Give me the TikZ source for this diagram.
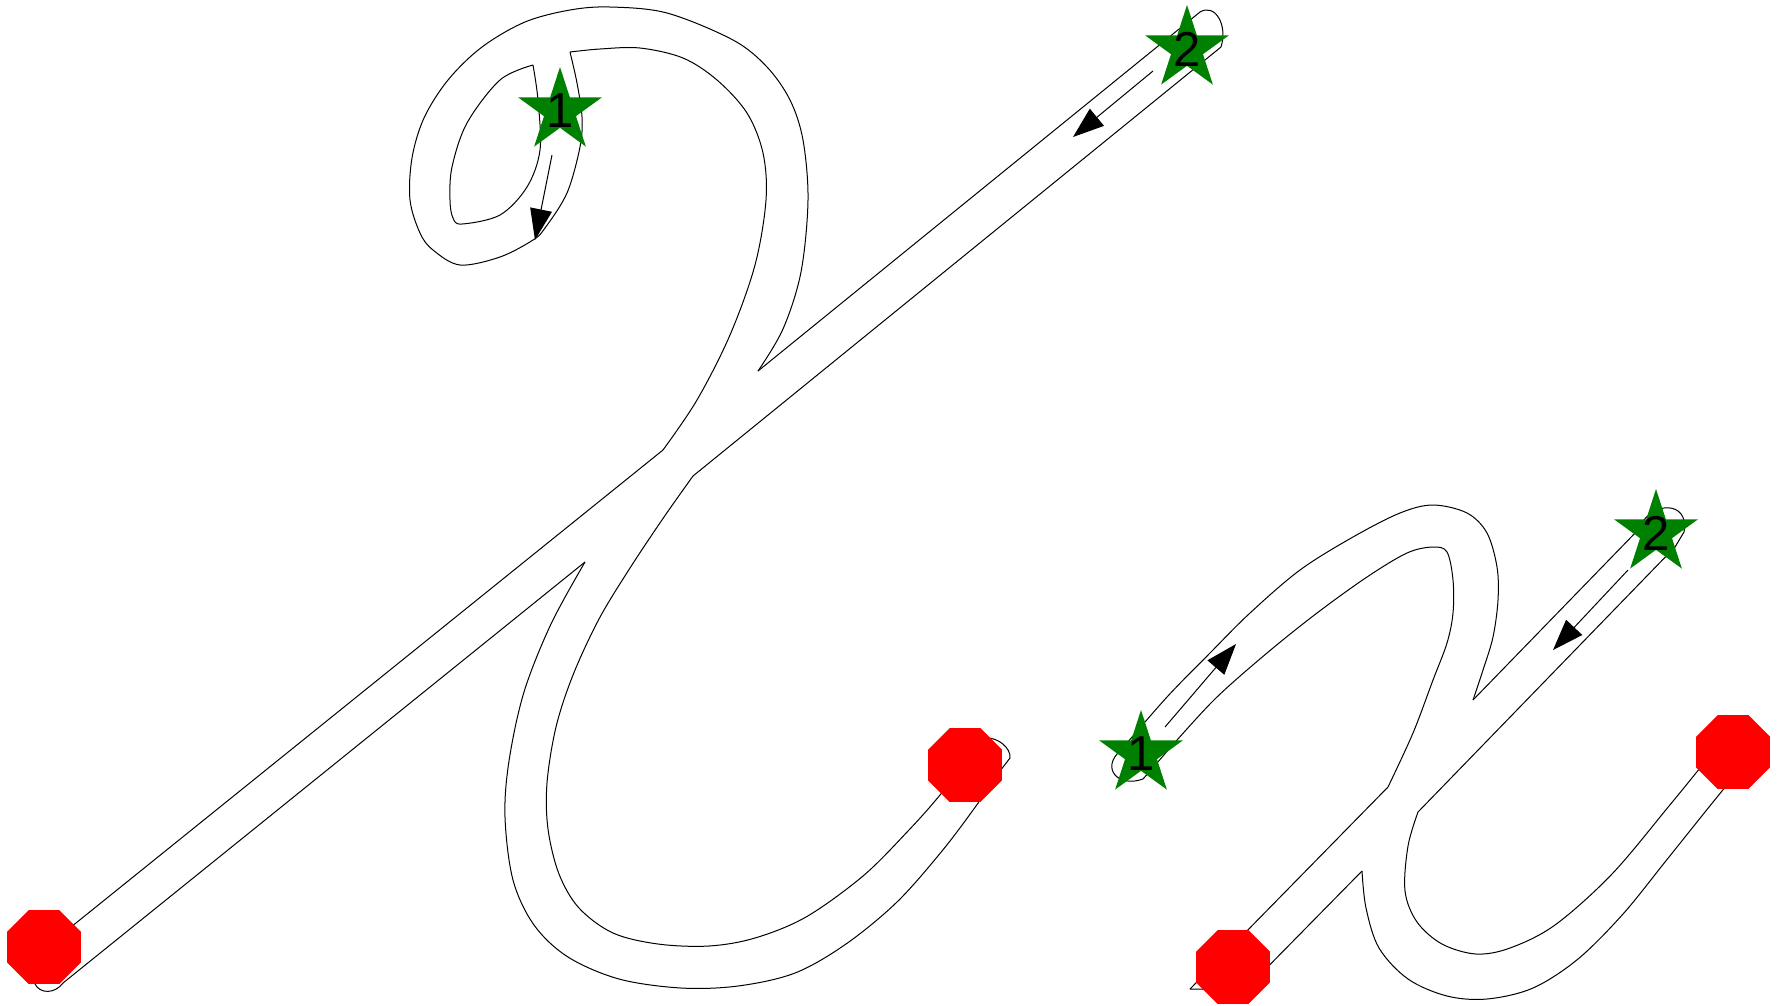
\documentclass[tikz,border=0pt]{standalone}
\usepackage{fontspec}
\setmainfont{Liberation Sans}
\usetikzlibrary{shapes.geometric, arrows.meta}
\definecolor{stargreen}{RGB}{0,128,0}
\definecolor{stopred}{RGB}{255,0,0}
\begin{document}
\begin{tikzpicture}[x=1pt,y=-1pt,
  outline/.style={line width=1pt, black, line join=round},
  sm/.style={smooth, tension=0.55},
  dirarrow/.style={line width=1pt, black, -{Triangle[length=31pt,width=22pt]}},
  startstar/.style={star, star points=5, star point ratio=2.618, minimum size=88pt, inner sep=0pt, fill=stargreen, draw=none},
  stopmark/.style={regular polygon, regular polygon sides=8, minimum size=80pt, inner sep=0pt, fill=stopred, draw=none},
  numlbl/.style={font=\fontsize{49}{49}\selectfont, text=black, inner sep=0pt}]
\useasboundingbox (0,0) rectangle (1780,1005);
\fill[white] (0,0) rectangle (1780,1005);

% ===== Left letter =====
% inner hole of the loop
\draw[outline] plot[sm] coordinates {(533,65) (500,80) (467,123) (452,167) (450,200) (453,218) (462,224) (500,215) (527,187) (540,150) (538,100) (533,65)};
% outer loop and outer big arc
\draw[outline] plot[sm] coordinates {(570,52) (577,83) (582,117) (580,147) (567,193) (545,228) (533,240) (500,257) (460,265) (433,250) (420,233) (410,200) (412,158) (424,118) (448,80) (482,47) (525,22) (570,10) (610,7) (667,13) (733,40) (767,67) (790,100) (803,140) (808,200) (801,272) (783,329) (758,371)};
% diagonal stroke, upper part
\draw[outline] (758,371) -- (1200,12);
\draw[outline] (1200,12) .. controls (1215,3) and (1228,25) .. (1221,47);
\draw[outline] (1221,47) -- (693,476);
% inner bowl
\draw[outline] plot[sm] coordinates {(693,476) (664,517) (630,568) (599,619) (573,675) (556,727) (547,783) (548,829) (559,874) (579,908) (613,933) (658,944) (709,946) (755,938) (806,917) (863,876) (908,831) (940,795) (985,738)};
\draw[outline] (985,738) .. controls (998,737) and (1011,748) .. (1010,758) -- (1000,771);
% outer bowl
\draw[outline] plot[sm] coordinates {(1000,771) (976,806) (942,851) (897,902) (846,944) (795,973) (738,986) (681,988) (619,979) (568,957) (534,925) (513,880) (505,817) (509,761) (524,692) (551,624) (585,562)};
% diagonal stroke, lower part
\draw[outline] (585,562) -- (63,983);
\draw[outline] (63,983) .. controls (55,994) and (40,994) .. (35,984) -- (40,952);
\draw[outline] (40,952) -- (663,450);
% inner big arc
\draw[outline] plot[sm] coordinates {(663,450) (697,400) (730,335) (755,265) (766,200) (763,153) (747,113) (717,80) (683,58) (640,48) (600,49) (570,52)};

% ===== Right letter =====
\draw[outline] plot[sm] coordinates {(1121,750) (1167,697) (1210,653) (1250,613) (1300,570) (1353,537) (1400,513) (1433,505) (1467,513) (1487,533) (1497,567) (1498,600) (1493,637) (1483,670) (1473,700)};
\draw[outline] (1473,700) -- (1638,530);
\draw[outline] (1638,530) .. controls (1650,500) and (1690,500) .. (1684,532) -- (1675,547);
\draw[outline] (1675,547) -- (1418,812);
\draw[outline] plot[sm] coordinates {(1418,812) (1408,846) (1405,891) (1417,922) (1442,944) (1476,954) (1510,948) (1555,925) (1612,874) (1669,806) (1700,768) (1716,748)};
\draw[outline] plot[sm] coordinates {(1362,871) (1366,908) (1379,948) (1408,979) (1447,996) (1487,999) (1533,988) (1578,959) (1623,914) (1665,862) (1705,812) (1735,775)};
\draw[outline] (1362,871) -- (1245,990) -- (1190,989) -- (1388,787);
\draw[outline] plot[sm] coordinates {(1388,787) (1413,733) (1433,680) (1447,643) (1453,613) (1453,580) (1447,552) (1433,547) (1407,553) (1367,577) (1317,613) (1267,653) (1217,697) (1177,740) (1157,763) (1143,779)};
\draw[outline] (1143,779) .. controls (1118,788) and (1100,768) .. (1121,750);

% ===== direction arrows =====
\coordinate (a1s) at (552,155); \coordinate (a1e) at (535,240);
\coordinate (a2s) at (1153,71); \coordinate (a2e) at (1073,137);
\coordinate (a3s) at (1165,727); \coordinate (a3e) at (1236,644);
\coordinate (a4s) at (1628,570); \coordinate (a4e) at (1553,650);
\draw[dirarrow] (a1s) -- (a1e);
\draw[dirarrow] (a2s) -- (a2e);
\draw[dirarrow] (a3s) -- (a3e);
\draw[dirarrow] (a4s) -- (a4e);

% ===== stops =====
\node[stopmark] (e1) at (44,947) {};
\node[stopmark] (e2) at (965,765) {};
\node[stopmark] (e3) at (1233,967) {};
\node[stopmark] (e4) at (1733,752) {};

% ===== starts =====
\node[startstar] (s1) at (560,111) {};
\node[startstar] (s2) at (1187,49) {};
\node[startstar] (s3) at (1141,754) {};
\node[startstar] (s4) at (1656,533) {};
\node[numlbl] at (s1) {1};
\node[numlbl] at (s2) {2};
\node[numlbl] at (s3) {1};
\node[numlbl] at (s4) {2};
\end{tikzpicture}
\end{document}
